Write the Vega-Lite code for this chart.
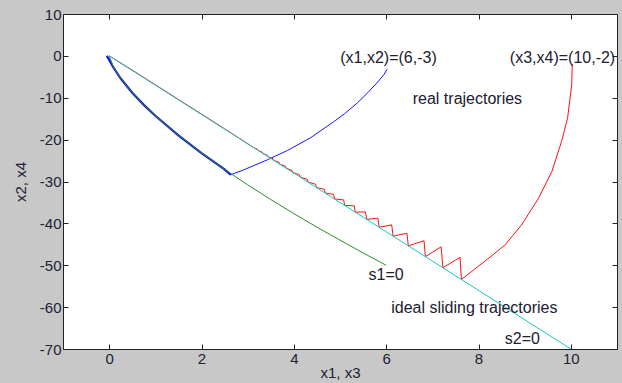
{
  "$schema": "https://vega.github.io/schema/vega-lite/v6.json",
  "width": 554,
  "height": 335,
  "autosize": {"type": "none"},
  "padding": {"left": 63, "top": 14, "right": 5, "bottom": 34},
  "background": "#c8c8c8",
  "config": {
    "view": {"stroke": "#222222", "strokeWidth": 1, "fill": "#ffffff"},
    "axis": {"labelFont": "Liberation Sans", "labelFontSize": 15, "labelColor": "#222233", "titleFont": "Liberation Sans", "titleFontSize": 15, "titleFontWeight": "normal", "titleColor": "#222233", "tickColor": "#222222", "grid": false, "domain": false, "labelExpr": "'' + datum.value"}
  },
  "datasets": {
    "lines": [
      {"s": "blue", "i": 1, "x": 6.02, "y": -3.2},
      {"s": "blue", "i": 2, "x": 5.95, "y": -4.5},
      {"s": "blue", "i": 3, "x": 5.82, "y": -6.2},
      {"s": "blue", "i": 4, "x": 5.6, "y": -8.8},
      {"s": "blue", "i": 5, "x": 5.38, "y": -11.2},
      {"s": "blue", "i": 6, "x": 5.1, "y": -13.8},
      {"s": "blue", "i": 7, "x": 4.88, "y": -15.6},
      {"s": "blue", "i": 8, "x": 4.37, "y": -19.5},
      {"s": "blue", "i": 9, "x": 3.86, "y": -22.6},
      {"s": "blue", "i": 10, "x": 3.43, "y": -24.8},
      {"s": "blue", "i": 11, "x": 2.92, "y": -27.2},
      {"s": "blue", "i": 12, "x": 2.63, "y": -28.4},
      {"s": "blue", "i": 13, "x": 2.5, "y": -27.1},
      {"s": "blue", "i": 14, "x": 2.0, "y": -23.2},
      {"s": "blue", "i": 15, "x": 1.5, "y": -19.0},
      {"s": "blue", "i": 16, "x": 1.0, "y": -14.3},
      {"s": "blue", "i": 17, "x": 0.75, "y": -11.7},
      {"s": "blue", "i": 18, "x": 0.5, "y": -8.8},
      {"s": "blue", "i": 19, "x": 0.25, "y": -5.4},
      {"s": "blue", "i": 20, "x": 0.1, "y": -2.9},
      {"s": "blue", "i": 21, "x": -0.05, "y": 0},
      {"s": "red", "i": 1, "x": 10.03, "y": -2},
      {"s": "red", "i": 2, "x": 10.02, "y": -6.8},
      {"s": "red", "i": 3, "x": 9.93, "y": -14.8},
      {"s": "red", "i": 4, "x": 9.8, "y": -20.4},
      {"s": "red", "i": 5, "x": 9.59, "y": -27.6},
      {"s": "red", "i": 6, "x": 9.3, "y": -34},
      {"s": "red", "i": 7, "x": 8.93, "y": -40.4},
      {"s": "red", "i": 8, "x": 8.57, "y": -45.2},
      {"s": "red", "i": 9, "x": 8.2, "y": -48.5},
      {"s": "red", "i": 10, "x": 7.63, "y": -53.4},
      {"s": "red", "i": 11, "x": 7.6, "y": -48.1},
      {"s": "red", "i": 12, "x": 7.23, "y": -50.6},
      {"s": "red", "i": 13, "x": 7.19, "y": -45.6},
      {"s": "red", "i": 14, "x": 6.85, "y": -47.95},
      {"s": "red", "i": 15, "x": 6.82, "y": -44.15},
      {"s": "red", "i": 16, "x": 6.48, "y": -45.36},
      {"s": "red", "i": 17, "x": 6.45, "y": -42.36},
      {"s": "red", "i": 18, "x": 6.15, "y": -43.05},
      {"s": "red", "i": 19, "x": 6.12, "y": -40.35},
      {"s": "red", "i": 20, "x": 5.85, "y": -40.95},
      {"s": "red", "i": 21, "x": 5.82, "y": -38.75},
      {"s": "red", "i": 22, "x": 5.58, "y": -39.06},
      {"s": "red", "i": 23, "x": 5.55, "y": -37.26},
      {"s": "red", "i": 24, "x": 5.33, "y": -37.31},
      {"s": "red", "i": 25, "x": 5.31, "y": -35.81},
      {"s": "red", "i": 26, "x": 5.1, "y": -35.7},
      {"s": "red", "i": 27, "x": 5.08, "y": -34.4},
      {"s": "red", "i": 28, "x": 4.88, "y": -34.16},
      {"s": "red", "i": 29, "x": 4.86, "y": -33.06},
      {"s": "red", "i": 30, "x": 4.68, "y": -32.76},
      {"s": "red", "i": 31, "x": 4.66, "y": -31.86},
      {"s": "red", "i": 32, "x": 4.49, "y": -31.43},
      {"s": "red", "i": 33, "x": 4.47, "y": -30.63},
      {"s": "red", "i": 34, "x": 4.31, "y": -30.17},
      {"s": "red", "i": 35, "x": 4.29, "y": -29.47},
      {"s": "red", "i": 36, "x": 4.14, "y": -28.98},
      {"s": "red", "i": 37, "x": 4.12, "y": -28.38},
      {"s": "red", "i": 38, "x": 3.98, "y": -27.86},
      {"s": "red", "i": 39, "x": 3.96, "y": -27.36},
      {"s": "red", "i": 40, "x": 3.83, "y": -26.81},
      {"s": "red", "i": 41, "x": 3.82, "y": -26.36},
      {"s": "red", "i": 42, "x": 3.69, "y": -25.83},
      {"s": "red", "i": 43, "x": 3.68, "y": -25.43},
      {"s": "red", "i": 44, "x": 3.56, "y": -24.92},
      {"s": "red", "i": 45, "x": 3.55, "y": -24.57},
      {"s": "red", "i": 46, "x": 3.44, "y": -24.08},
      {"s": "red", "i": 47, "x": 3.43, "y": -23.78},
      {"s": "red", "i": 48, "x": 3.33, "y": -23.31},
      {"s": "red", "i": 49, "x": 3.32, "y": -23.01},
      {"s": "red", "i": 50, "x": 3.22, "y": -22.54},
      {"s": "red", "i": 51, "x": 3.21, "y": -22.29},
      {"s": "red", "i": 52, "x": 3.12, "y": -21.84},
      {"s": "red", "i": 53, "x": 2.5, "y": -17.4},
      {"s": "red", "i": 54, "x": 1.5, "y": -10.4},
      {"s": "red", "i": 55, "x": 0.5, "y": -3.4},
      {"s": "red", "i": 56, "x": 0, "y": 0},
      {"s": "green", "i": 1, "x": 0, "y": 0},
      {"s": "green", "i": 2, "x": 0.1, "y": -2.85},
      {"s": "green", "i": 3, "x": 0.25, "y": -5.41},
      {"s": "green", "i": 4, "x": 0.5, "y": -8.78},
      {"s": "green", "i": 5, "x": 0.75, "y": -11.67},
      {"s": "green", "i": 6, "x": 1.0, "y": -14.27},
      {"s": "green", "i": 7, "x": 1.5, "y": -18.95},
      {"s": "green", "i": 8, "x": 2.0, "y": -23.18},
      {"s": "green", "i": 9, "x": 2.5, "y": -27.1},
      {"s": "green", "i": 10, "x": 3.0, "y": -30.8},
      {"s": "green", "i": 11, "x": 3.5, "y": -34.3},
      {"s": "green", "i": 12, "x": 4.0, "y": -37.66},
      {"s": "green", "i": 13, "x": 4.5, "y": -40.9},
      {"s": "green", "i": 14, "x": 5.0, "y": -44.0},
      {"s": "green", "i": 15, "x": 5.5, "y": -47.05},
      {"s": "green", "i": 16, "x": 6.0, "y": -50.0},
      {"s": "cyan", "i": 1, "x": 0, "y": 0},
      {"s": "cyan", "i": 2, "x": 10, "y": -70}
    ],
    "labels": [
      {"x": 6.05, "y": -0.4, "t": "(x1,x2)=(6,-3)"},
      {"x": 9.82, "y": -0.4, "t": "(x3,x4)=(10,-2)"},
      {"x": 7.76, "y": -10.3, "t": "real trajectories"},
      {"x": 6.0, "y": -52.3, "t": "s1=0"},
      {"x": 7.91, "y": -60.2, "t": "ideal sliding trajectories"},
      {"x": 8.95, "y": -67.5, "t": "s2=0"}
    ]
  },
  "layer": [
    {
      "data": {"name": "lines"},
      "transform": [{"filter": "datum.s === 'blue' && datum.i >= 12"}],
      "mark": {"type": "line", "strokeWidth": 2.2, "color": "#1010d0", "clip": true},
      "encoding": {
        "x": {"field": "x", "type": "quantitative", "scale": {"domain": [-1, 11], "nice": false, "zero": false},
          "axis": {"orient": "bottom", "values": [0, 2, 4, 6, 8, 10], "tickSize": -5, "labelPadding": 7, "title": "x1, x3", "titlePadding": -1}},
        "y": {"field": "y", "type": "quantitative", "scale": {"domain": [-70, 10], "nice": false, "zero": false},
          "axis": {"orient": "left", "values": [10, 0, -10, -20, -30, -40, -50, -60, -70], "tickSize": -5, "labelPadding": 7, "title": "x2, x4", "titlePadding": 11}},
        "order": {"field": "i", "type": "quantitative"}
      }
    },
    {
      "data": {"name": "lines"},
      "mark": {"type": "line", "strokeWidth": 1, "clip": true},
      "encoding": {
        "x": {"field": "x", "type": "quantitative", "axis": null},
        "y": {"field": "y", "type": "quantitative", "axis": null},
        "color": {"field": "s", "type": "nominal", "legend": null,
          "scale": {"domain": ["blue", "red", "green", "cyan"], "range": ["#1515ff", "#ff1010", "#2a8f2a", "#19c8c8"]}},
        "order": {"field": "i", "type": "quantitative"}
      }
    },
    {
      "data": {"name": "labels"},
      "mark": {"type": "text", "font": "Liberation Sans", "fontSize": 16, "color": "#202030", "align": "center", "baseline": "middle"},
      "encoding": {
        "x": {"field": "x", "type": "quantitative",
          "axis": {"orient": "top", "values": [0, 2, 4, 6, 8, 10], "tickSize": -5, "labels": false, "title": null}},
        "y": {"field": "y", "type": "quantitative",
          "axis": {"orient": "right", "values": [10, 0, -10, -20, -30, -40, -50, -60, -70], "tickSize": -5, "labels": false, "title": null}},
        "text": {"field": "t", "type": "nominal"}
      }
    }
  ],
  "resolve": {"axis": {"x": "independent", "y": "independent"}}
}
